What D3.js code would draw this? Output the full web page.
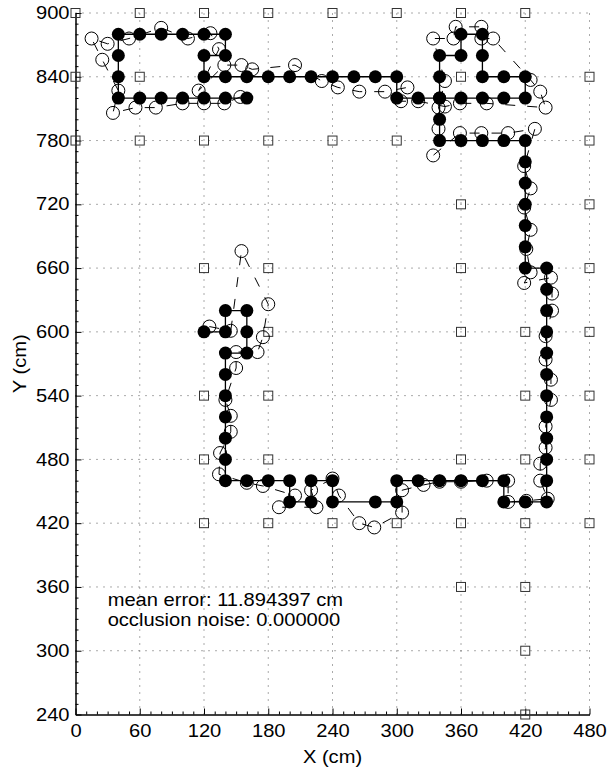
<!DOCTYPE html>
<html>
<head>
<meta charset="utf-8">
<script src="https://cdn.jsdelivr.net/npm/d3@7"></script>
<style>
  body { margin: 0; background: #fff; }
  svg { display: block; }
  text { font-family: "Liberation Sans", Arial, Helvetica, sans-serif; font-size: 17.5px; fill: #000; }
</style>
</head>
<body>
<script>
// tick values
const xTicks = [0, 60, 120, 180, 240, 300, 360, 420, 480];
const yTicks = [240, 300, 360, 420, 480, 540, 600, 660, 720, 780, 840, 900];

// landmarks (squares)
const landmarks = [
  [0,900],[60,900],[120,900],[180,900],[240,900],[300,900],[360,900],[420,900],
  [0,840],[60,840],[360,840],[480,840],
  [0,780],[60,780],[120,780],[180,780],[240,780],[300,780],[480,780],
  [360,720],[480,720],
  [120,660],[180,660],[360,660],[480,660],
  [180,600],[360,600],[420,600],[480,600],
  [120,540],[180,540],[420,540],[480,540],
  [120,480],[180,480],[360,480],[420,480],[480,480],
  [120,420],[180,420],[240,420],[300,420],[360,420],[420,420],[480,420],
  [360,360],[420,360],
  [420,300],
  [420,240]
];

// true path (filled circles)
const truePath = [
  [120,600],[140,600],[140,620],[160,620],[160,600],[160,580],[140,580],[140,560],[140,540],[140,520],
  [140,500],[140,480],[140,460],[160,460],[180,460],[200,460],[200,440],[220,440],[220,460],[240,460],
  [240,440],[280,440],[300,440],[300,460],[320,460],[340,460],[360,460],[380,460],[400,460],[400,440],
  [420,440],[440,440],[440,460],[440,480],[440,500],[440,520],[440,540],[440,560],[440,580],[440,600],
  [440,620],[440,640],[440,660],[420,660],[420,680],[420,700],[420,720],[420,740],[420,760],[420,780],
  [400,780],[380,780],[360,780],[340,780],[340,800],[340,820],[340,840],[340,860],[360,860],[360,880],
  [380,880],[380,860],[380,840],[400,840],[420,840],[420,820],[400,820],[380,820],[360,820],[340,820],
  [320,820],[300,820],[300,840],[280,840],[260,840],[240,840],[220,840],[200,840],[180,840],[160,840],
  [140,840],[120,840],[120,860],[140,860],[140,880],[120,880],[100,880],[80,880],[60,880],[40,880],
  [40,860],[40,840],[40,820],[60,820],[80,820],[100,820],[120,820],[140,820],[160,820]
];

// estimated path (open circles)
const estPath = [
  [125,605],[145,601],[155,676],[180,626],[175,595],[170,581],[150,581],[150,566],[140,536],[145,521],
  [145,506],[135,486],[134,466],[160,458],[175,455],[205,446],[190,435],[225,435],[220,451],[240,462],
  [246,446],[265,420],[279,416],[305,430],[305,451],[325,456],[340,459],[360,459],[384,460],[404,460],
  [404,440],[421,441],[441,443],[434,460],[434,476],[439,491],[439,511],[444,536],[444,555],[439,574],
  [439,596],[445,620],[445,636],[444,651],[419,646],[425,656],[421,678],[425,696],[419,717],[425,735],
  [419,756],[429,791],[404,787],[379,787],[359,787],[334,766],[339,791],[339,811],[345,836],[334,876],
  [353,876],[355,887],[379,887],[379,876],[390,876],[425,837],[434,826],[439,811],[384,815],[359,815],
  [345,812],[320,817],[304,817],[310,830],[289,826],[265,826],[245,830],[230,836],[205,851],[165,847],
  [155,851],[139,851],[115,827],[134,866],[126,881],[105,876],[80,886],[50,876],[30,871],[15,876],
  [25,856],[40,827],[35,806],[56,811],[75,811],[100,815],[120,815],[139,815],[154,821]
];

const notes = ["mean error: 11.894397 cm", "occlusion noise: 0.000000"];

const W = 613, H = 769;
const margin = {top: 13, right: 23.5, bottom: 54.5, left: 75.5};
const sx = 1.15; // horizontal text stretch

const svg = d3.select("body").append("svg").attr("width", W).attr("height", H);

const x = d3.scaleLinear().domain([0, 480]).range([margin.left, W - margin.right]);
const y = d3.scaleLinear().domain([240, 900]).range([H - margin.bottom, margin.top]);

// dotted grid
const grid = svg.append("g").attr("stroke", "#555").attr("stroke-width", 1).attr("stroke-dasharray", "1,6");
grid.selectAll(".gx").data(xTicks.slice(1)).enter().append("line")
  .attr("x1", d => x(d)).attr("x2", d => x(d))
  .attr("y1", y(240)).attr("y2", y(900));
grid.selectAll(".gy").data(yTicks.slice(1)).enter().append("line")
  .attr("x1", x(0)).attr("x2", x(480))
  .attr("y1", d => y(d)).attr("y2", d => y(d));

// axes
const minorX = d3.range(0, 481, 10).filter(d => d % 60);
const minorY = d3.range(240, 901, 10).filter(d => d % 60);

const gxMinor = svg.append("g").attr("transform", `translate(0,${y(240)})`)
  .call(d3.axisBottom(x).tickValues(minorX).tickSize(-3).tickSizeOuter(0).tickFormat(""));
const gyMinor = svg.append("g").attr("transform", `translate(${x(0)},0)`)
  .call(d3.axisLeft(y).tickValues(minorY).tickSize(-3).tickSizeOuter(0).tickFormat(""));

const gx = svg.append("g").attr("transform", `translate(0,${y(240)})`)
  .call(d3.axisBottom(x).tickValues(xTicks).tickSize(-6).tickSizeOuter(0).tickPadding(10));
const gy = svg.append("g").attr("transform", `translate(${x(0)},0)`)
  .call(d3.axisLeft(y).tickValues(yTicks).tickSize(-6).tickSizeOuter(0).tickPadding(5.2));

[gx, gy, gxMinor, gyMinor].forEach(g => {
  g.attr("font-size", null).attr("font-family", null);
  g.selectAll("path, line").attr("stroke", "#000");
});
gx.selectAll("text").attr("transform", `scale(${sx},1)`);
gy.selectAll("text").attr("transform", `scale(${sx},1)`);

// landmarks
svg.append("g").selectAll("rect").data(landmarks).enter().append("rect")
  .attr("x", d => x(d[0]) - 4.5).attr("y", d => y(d[1]) - 4.5)
  .attr("width", 9).attr("height", 9)
  .attr("fill", "none").attr("stroke", "#333").attr("stroke-width", 1);

const line = d3.line().x(d => x(d[0])).y(d => y(d[1]));

// estimated path
svg.append("path").datum(estPath).attr("d", line)
  .attr("fill", "none").attr("stroke", "#000").attr("stroke-width", 1)
  .attr("stroke-dasharray", "10,12");
svg.append("g").selectAll("circle").data(estPath).enter().append("circle")
  .attr("cx", d => x(d[0])).attr("cy", d => y(d[1])).attr("r", 6.5)
  .attr("fill", "none").attr("stroke", "#000").attr("stroke-width", 1);

// true path
svg.append("path").datum(truePath).attr("d", line)
  .attr("fill", "none").attr("stroke", "#000").attr("stroke-width", 1.3);
svg.append("g").selectAll("circle").data(truePath).enter().append("circle")
  .attr("cx", d => x(d[0])).attr("cy", d => y(d[1])).attr("r", 6.5)
  .attr("fill", "#000");

// annotation
svg.append("g").selectAll("text").data(notes).enter().append("text")
  .attr("transform", (d, i) => `translate(${x(30)},${y(342) + i * 20}) scale(${sx},1)`)
  .text(d => d);

// axis labels
svg.append("text")
  .attr("transform", `translate(${(x(0) + x(480)) / 2},${H - 6}) scale(${sx},1)`)
  .attr("text-anchor", "middle").text("X (cm)");
svg.append("text")
  .attr("transform", `translate(26,${(y(240) + y(900)) / 2}) rotate(-90) scale(${sx},1)`)
  .attr("text-anchor", "middle").text("Y (cm)");
</script>
</body>
</html>
